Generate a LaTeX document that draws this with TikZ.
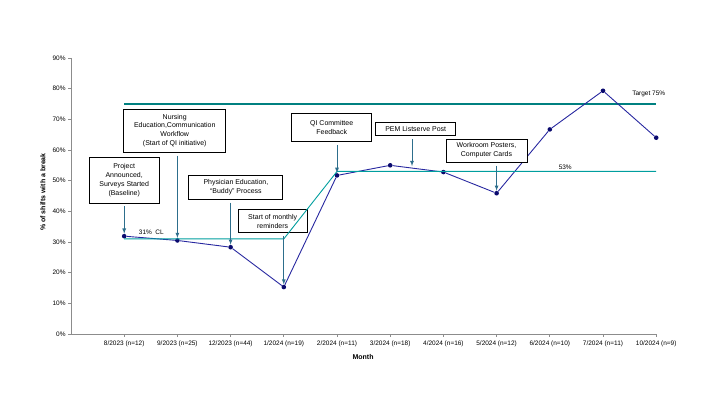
\documentclass[tikz,border=0pt]{standalone}
\usepackage{fontspec}
\setmainfont{Liberation Sans}
\usetikzlibrary{arrows,positioning,calc}

\definecolor{targetteal}{RGB}{0,128,128}
\definecolor{clteal}{RGB}{0,158,158}
\definecolor{navyline}{RGB}{40,40,160}
\definecolor{navydot}{RGB}{10,10,110}
\definecolor{noteblue}{RGB}{45,110,140}
\definecolor{axisgray}{RGB}{140,140,140}

\begin{document}
\begin{tikzpicture}[x=53.2bp,y=3.067bp,font=\fontsize{6.5}{8}\selectfont,
axis/.style={draw=axisgray,line width=0.8bp},
dot/.style={circle,fill=navydot,inner sep=0pt,minimum size=4.6bp},
note/.style={draw=black,fill=white,line width=0.9bp,align=center,inner sep=1pt,
  font=\fontsize{7}{9}\selectfont},
pointer/.style={draw=noteblue,line width=0.8bp,-latex,shorten <=3bp},
every label/.style={inner sep=1pt}]
\useasboundingbox (-71bp,-71bp) rectangle (649bp,334bp);
% axes
\draw[axis] (0,90) -- (0,0) -- (11,0);
\foreach \v in {0,10,...,90}
  \draw[axis] (0,\v) -- ([xshift=-3bp]0,\v) node[left,inner sep=2bp] {\v\%};
\foreach \i/\m in {1/{8/2023 (n=12)},2/{9/2023 (n=25)},3/{12/2023 (n=44)},4/{1/2024 (n=19)},
  5/{2/2024 (n=11)},6/{3/2024 (n=18)},7/{4/2024 (n=16)},8/{5/2024 (n=12)},
  9/{6/2024 (n=10)},10/{7/2024 (n=11)},11/{10/2024 (n=9)}}
  \draw[axis] (\i,0) -- ([yshift=-3bp]\i,0) node[below,inner sep=3bp] {\m};
\node[rotate=90,font=\fontsize{7}{8}\bfseries] (ytitle) at ([xshift=-28bp]0,46.3) {\% of shifts with a break};
\node[font=\fontsize{7}{8}\bfseries] (xtitle) at (5.49,-7.5) {Month};
% target line
\draw[targetteal,line width=2.2bp] (1,75) -- (11,75);
\node (target) at (10.86,78.3) {Target 75\%};
% data
\foreach \i/\v in {1/31.9,2/30.5,3/28.3,4/15.3,5/51.7,6/55.0,7/52.8,8/45.9,9/66.7,10/79.3,11/64.0}
  \node[dot] (p\i) at (\i,\v) {};
\draw[navyline,line width=0.9bp] (p1) -- (p2) -- (p3) -- (p4) -- (p5) -- (p6)
  -- (p7) -- (p8) -- (p9) -- (p10) -- (p11);
% annotations
\node[note,minimum width=70bp,minimum height=46bp] (bProject) at (1.0,50.2)
  {Project\\Announced,\\Surveys Started\\(Baseline)};
\node[note,minimum width=102bp,minimum height=43bp] (bNursing) at (1.95,66.3)
  {Nursing\\Education,Communication\\Workflow\\(Start of QI initiative)};
\node[note,minimum width=94bp,minimum height=24bp] (bPhysician) at (3.1,47.9)
  {Physician Education,\\``Buddy'' Process};
\node[note,minimum width=69bp,minimum height=23bp] (bReminders) at (3.79,36.7)
  {Start of monthly\\reminders};
\node[note,minimum width=80bp,minimum height=28bp] (bCommittee) at (4.9,67.2)
  {QI Committee\\Feedback};
\node[note,minimum width=80bp,minimum height=13bp] (bListserve) at (6.48,66.7)
  {PEM Listserve Post};
\node[note,minimum width=81bp,minimum height=23bp] (bPosters) at (7.81,59.8)
  {Workroom Posters,\\Computer Cards};
% centre lines
\draw[clteal,line width=0.9bp] (1,31) -- (4,31) -- (5,53) -- (11,53);
\node (cl1) at (1.51,33.3) {31\%\ \ CL};
\node (cl2) at (9.29,54.4) {53\%};
\coordinate (lp) at ($(p6)!0.41!(p7)$);
\draw[pointer] (bProject.south -| p1) -- (p1);
\draw[pointer] (bNursing.south -| p2) -- (p2);
\draw[pointer] (bPhysician.south -| p3) -- (p3);
\draw[pointer] (bReminders.south -| p4) -- (p4);
\draw[pointer] (bCommittee.south -| p5) -- (p5);
\draw[pointer,shorten >=2bp] (bListserve.south -| lp) -- (lp);
\draw[pointer] (bPosters.south -| p8) -- (p8);
\end{tikzpicture}
\end{document}
